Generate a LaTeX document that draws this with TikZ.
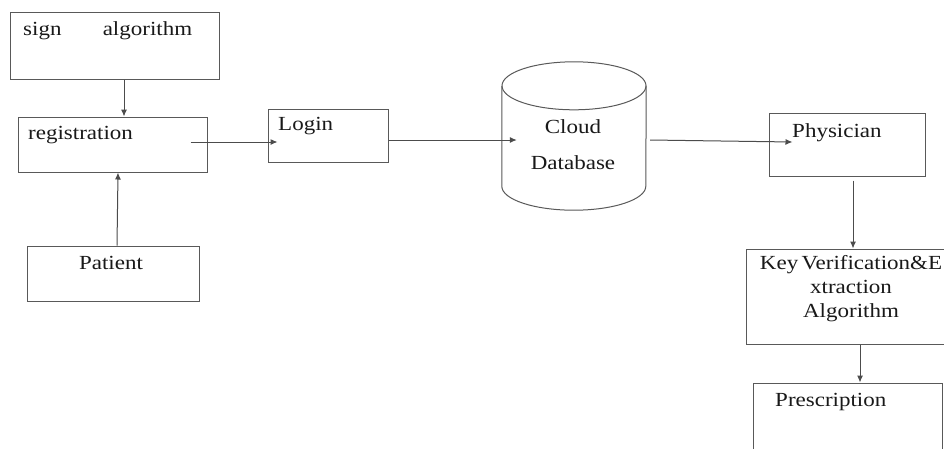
\documentclass[tikz,border=0pt]{standalone}
\usepackage{fontspec}
\setmainfont[FakeStretch=1.15]{Liberation Serif}
\usetikzlibrary{arrows.meta}
\tikzset{
  box/.style={draw=black!65, line width=1pt, rectangle, inner sep=0pt},
  cyl/.style={draw=black!65, line width=1pt},
  txt/.style={inner sep=0pt, text=black!90},
  arr/.style={draw=black!70, line width=1pt, -{Latex[length=7pt,width=6pt]}}
}
\begin{document}
\begin{tikzpicture}[x=1pt, y=-1pt, font=\fontsize{20}{24}\selectfont]
\useasboundingbox[fill=white] (0,0) rectangle (944,448);
\node[box, minimum width=209pt, minimum height=67pt] (sign) at (114.5,45.5) {};
\node[txt, anchor=west, text width=169pt] (signtxt) at (23,31) {sign\hfill algorithm};
\node[box, minimum width=189pt, minimum height=55pt] (reg) at (112.5,144.5) {};
\node[txt, anchor=west] (regtxt) at (28,135) {registration};
\node[box, minimum width=172pt, minimum height=55pt] (patient) at (113,273.5) {};
\node[txt] (patienttxt) at (111,263) {Patient};
\node[box, minimum width=120pt, minimum height=53pt] (login) at (328,135.5) {};
\node[txt, anchor=west] (logintxt) at (278,126) {Login};
\node[inner sep=0pt, minimum width=144pt, minimum height=148pt] (cloud) at (574,136) {};
\draw[cyl] ([yshift=-24pt]cloud.north) ellipse [x radius=72pt, y radius=24pt];
\draw[cyl] ([yshift=-24pt]cloud.north west) -- ([yshift=24pt]cloud.south west)
  arc[start angle=180, end angle=360, x radius=72pt, y radius=24pt] -- ([yshift=-24pt]cloud.north east);
\node[txt, align=center, font=\fontsize{20}{36}\selectfont] (cloudtxt) at (573,145) {Cloud\\Database};
\node[box, minimum width=156pt, minimum height=63pt] (phys) at (847,144.5) {};
\node[txt, anchor=west] (phystxt) at (792,133) {Physician};
\node[box, minimum width=204pt, minimum height=95pt] (key) at (848,296.5) {};
\node[txt, align=center] (keytxt) at (851,289) {Key\,Verification\&E\\xtraction\\Algorithm};
\node[box, minimum width=189pt, minimum height=77pt] (presc) at (847.5,421.5) {};
\node[txt, anchor=west] (presctxt) at (775,402) {Prescription};

\draw[arr] ([xshift=9.5pt]sign.south) -- ([xshift=11.5pt]reg.north);
\draw[arr] ([xshift=4pt]patient.north) -- ([xshift=5.5pt]reg.south);
\draw[arr] ([xshift=-17pt,yshift=2.5pt]reg.east) -- ([xshift=10pt,yshift=-6.5pt]login.west);
\draw[arr] ([yshift=-4.5pt]login.east) -- ([xshift=15pt,yshift=-4pt]cloud.west);
\draw[arr] ([xshift=4pt,yshift=-4pt]cloud.east) -- ([xshift=24pt,yshift=2.5pt]phys.west);
\draw[arr] ([xshift=6pt,yshift=-4pt]phys.south) -- ([xshift=5pt]key.north);
\draw[arr] ([xshift=12pt]key.south) -- ([xshift=12.5pt]presc.north);
\end{tikzpicture}
\end{document}
